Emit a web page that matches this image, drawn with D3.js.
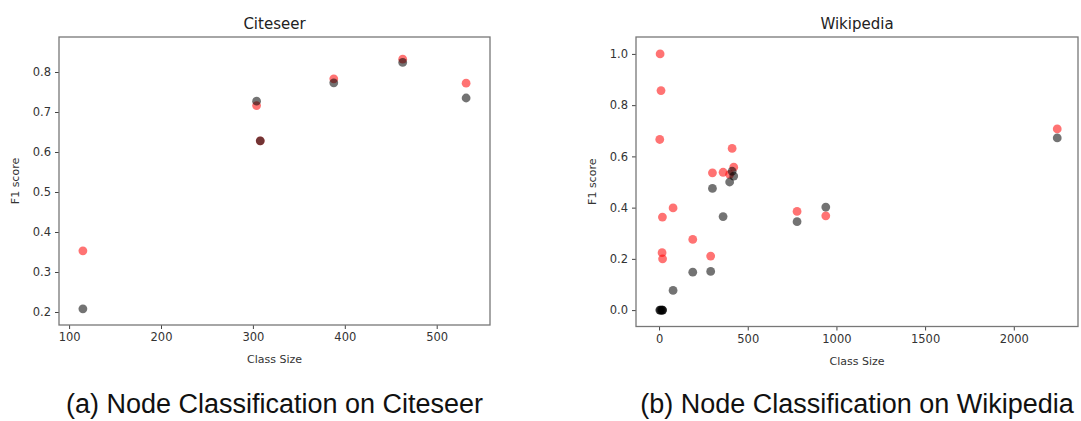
<!DOCTYPE html>
<html>
<head>
<meta charset="utf-8">
<script src="https://cdn.jsdelivr.net/npm/d3@7"></script>
<style>
  body { margin: 0; background: #fff; }
  svg { display: block; }
  .tick text { font-family: "DejaVu Sans", sans-serif; font-size: 11.5px; fill: #333; }
  .tick line { stroke: #444; }
  .title { font-family: "DejaVu Sans", sans-serif; font-size: 15px; fill: #222; text-anchor: middle; }
  .axis-label { font-family: "DejaVu Sans", sans-serif; font-size: 11px; fill: #333; text-anchor: middle; }
  .caption { font-family: "Liberation Sans", Arial, sans-serif; font-size: 27px; fill: #111; text-anchor: middle; }
</style>
</head>
<body>
<svg id="chart" width="1081" height="421"></svg>
<script>
// Citeseer: one point per class
const citeseerClassSize = [115, 304, 308, 388, 463, 532];
const citeseerRed = [0.353, 0.716, 0.628, 0.783, 0.832, 0.772];
const citeseerGray = [0.208, 0.727, 0.628, 0.773, 0.824, 0.735];
const citeseerXTicks = [100, 200, 300, 400, 500];
const citeseerYTicks = [0.2, 0.3, 0.4, 0.5, 0.6, 0.7, 0.8];

// Wikipedia: one point per class
const wikiClassSize = [6, 11, 4, 19, 17, 20, 79, 190, 291, 301, 361, 398, 412, 421, 778, 940, 2245];
const wikiRed = [1.0, 0.857, 0.666, 0.363, 0.224, 0.200, 0.399, 0.276, 0.211, 0.536, 0.538, 0.530, 0.631, 0.558, 0.385, 0.368, 0.707];
const wikiGray = [0, 0, 0, 0, 0, 0, 0.077, 0.148, 0.151, 0.475, 0.365, 0.500, 0.542, 0.523, 0.345, 0.402, 0.672];
const wikiXTicks = [0, 500, 1000, 1500, 2000];
const wikiYTicks = [0.0, 0.2, 0.4, 0.6, 0.8, 1.0];

const panels = [
  {
    title: "Citeseer", caption: "(a) Node Classification on Citeseer",
    x0: 59, x1: 490, y0: 37, y1: 325,
    xDomain: [89, 558], yDomain: [0.1675, 0.8875],
    sizes: citeseerClassSize, red: citeseerRed, gray: citeseerGray,
    xTicks: citeseerXTicks, yTicks: citeseerYTicks, xFmt: d3.format("d"), yFmt: d3.format(".1f")
  },
  {
    title: "Wikipedia", caption: "(b) Node Classification on Wikipedia",
    x0: 636, x1: 1078, y0: 37, y1: 326.5,
    xDomain: [-130, 2362], yDomain: [-0.064, 1.066],
    sizes: wikiClassSize, red: wikiRed, gray: wikiGray,
    xTicks: wikiXTicks, yTicks: wikiYTicks, xFmt: d3.format("d"), yFmt: d3.format(".1f")
  }
];

const svg = d3.select("#chart");
svg.append("rect").attr("width", 1081).attr("height", 421).attr("fill", "#fff");

panels.forEach(p => {
  const x = d3.scaleLinear().domain(p.xDomain).range([p.x0, p.x1]);
  const y = d3.scaleLinear().domain(p.yDomain).range([p.y1, p.y0]);

  const xAxis = d3.axisBottom(x).tickValues(p.xTicks).tickFormat(p.xFmt)
    .tickSize(4).tickPadding(4).tickSizeOuter(0);
  const yAxis = d3.axisLeft(y).tickValues(p.yTicks).tickFormat(p.yFmt)
    .tickSize(4).tickPadding(4).tickSizeOuter(0);

  svg.append("g")
    .attr("transform", `translate(0,${p.y1})`)
    .call(xAxis)
    .call(g => g.select(".domain").remove());

  svg.append("g")
    .attr("transform", `translate(${p.x0},0)`)
    .call(yAxis)
    .call(g => g.select(".domain").remove());

  // points: red first, gray drawn on top
  const pts = p.sizes.map((s, i) => ({ s, r: p.red[i], g: p.gray[i] }));
  svg.append("g").selectAll("circle.red")
    .data(pts)
    .join("circle")
    .attr("class", "red")
    .attr("cx", d => x(d.s))
    .attr("cy", d => y(d.r))
    .attr("r", 4.4)
    .attr("fill", "rgba(255,0,0,0.55)");

  svg.append("g").selectAll("circle.gray")
    .data(pts)
    .join("circle")
    .attr("class", "gray")
    .attr("cx", d => x(d.s))
    .attr("cy", d => y(d.g))
    .attr("r", 4.4)
    .attr("fill", "rgba(0,0,0,0.55)");

  // frame
  svg.append("rect")
    .attr("x", p.x0).attr("y", p.y0)
    .attr("width", p.x1 - p.x0).attr("height", p.y1 - p.y0)
    .attr("fill", "none")
    .attr("stroke", "#777")
    .attr("stroke-width", 1.3);

  const cx = (p.x0 + p.x1) / 2;
  svg.append("text").attr("class", "title")
    .attr("x", cx).attr("y", p.y0 - 8)
    .text(p.title);

  svg.append("text").attr("class", "axis-label")
    .attr("x", cx).attr("y", p.y1 + 38)
    .text("Class Size");

  svg.append("text").attr("class", "axis-label")
    .attr("transform", `translate(${p.x0 - 40},${(p.y0 + p.y1) / 2}) rotate(-90)`)
    .text("F1 score");

  svg.append("text").attr("class", "caption")
    .attr("x", cx).attr("y", 413)
    .text(p.caption);
});
</script>
</body>
</html>
